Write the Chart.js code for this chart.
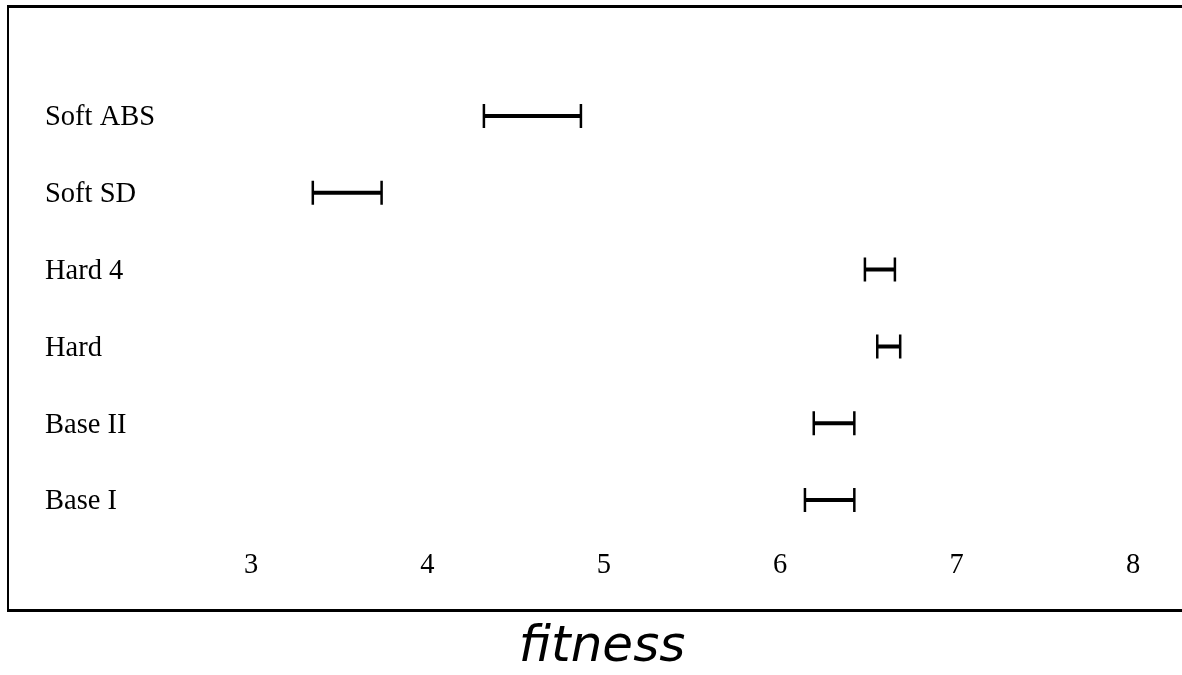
<!DOCTYPE html>
<html>
<head>
<meta charset="utf-8">
<script src="https://cdn.jsdelivr.net/npm/chart.js@4.4.1/dist/chart.umd.min.js"></script>
<style>
  html, body { margin: 0; padding: 0; background: #fff; overflow: hidden; }
  /* the frame runs off the right edge of the window, as in the original */
  #wrap { width: 1196px; height: 675px; position: relative; }
</style>
</head>
<body>
<div id="wrap"><canvas id="myChart"></canvas></div>
<script>
const categories = ["Soft ABS", "Soft SD", "Hard 4", "Hard", "Base II", "Base I"];
const lowValues = [4.32, 3.35, 6.48, 6.55, 6.19, 6.14];
const highValues = [4.87, 3.74, 6.65, 6.68, 6.42, 6.42];
const xTicks = [3, 4, 5, 6, 7, 8];

const serif = { family: "'Liberation Serif', 'Times New Roman', serif", size: 28.5 };

// one dataset per row: a line between the two ends, vertical caps as points
const datasets = categories.map((name, i) => ({
  label: name,
  data: [{ x: lowValues[i], y: i }, { x: highValues[i], y: i }],
  showLine: true,
  borderColor: "#000",
  borderWidth: 4,
  pointStyle: "line",
  pointRotation: 90,
  pointRadius: 12,
  pointBorderWidth: 2.5,
  pointBorderColor: "#000",
  pointBackgroundColor: "#000",
}));

new Chart(document.getElementById("myChart"), {
  type: "scatter",
  data: { datasets },
  options: {
    responsive: true,
    maintainAspectRatio: false,
    animation: false,
    events: [],
    layout: { autoPadding: false, padding: { left: 8, top: 6, right: 0, bottom: 2.3 } },
    plugins: {
      legend: { display: false },
      tooltip: { enabled: false },
    },
    scales: {
      x: {
        type: "linear",
        position: "bottom",
        min: 1.622,
        max: 8.357,
        afterBuildTicks: s => { s.ticks = xTicks.map(v => ({ value: v })); },
        afterFit: s => { s.height = 62.2; s.paddingLeft = 0; s.paddingRight = 0; },
        grid: { display: false, drawTicks: false },
        border: { display: true, color: "#000", width: 3 },
        ticks: {
          mirror: true,
          padding: 28,
          color: "#000",
          font: serif,
          maxRotation: 0,
          callback: v => String(v),
        },
        title: {
          display: true,
          text: "fitness",
          color: "#000",
          font: { family: "'DejaVu Sans', Verdana, sans-serif", size: 50, style: "italic", lineHeight: 1 },
          padding: { top: 12, bottom: 0 },
        },
      },
      x2: {
        type: "linear",
        position: "top",
        min: 1.622,
        max: 8.357,
        afterFit: s => { s.height = 0; },
        grid: { display: false, drawTicks: false },
        border: { display: true, color: "#000", width: 3 },
        ticks: { display: false },
      },
      y: {
        type: "linear",
        position: "left",
        reverse: true,
        min: -1.432,
        max: 6.439,
        afterBuildTicks: s => { s.ticks = categories.map((c, i) => ({ value: i })); },
        afterFit: s => { s.width = 0; s.paddingTop = 0; s.paddingBottom = 0; },
        grid: { display: false, drawTicks: false },
        border: { display: true, color: "#000", width: 2 },
        ticks: {
          mirror: true,
          padding: 37,
          labelOffset: 2,
          color: "#000",
          font: serif,
          callback: v => categories[v],
        },
      },
    },
  },
});
</script>
</body>
</html>
